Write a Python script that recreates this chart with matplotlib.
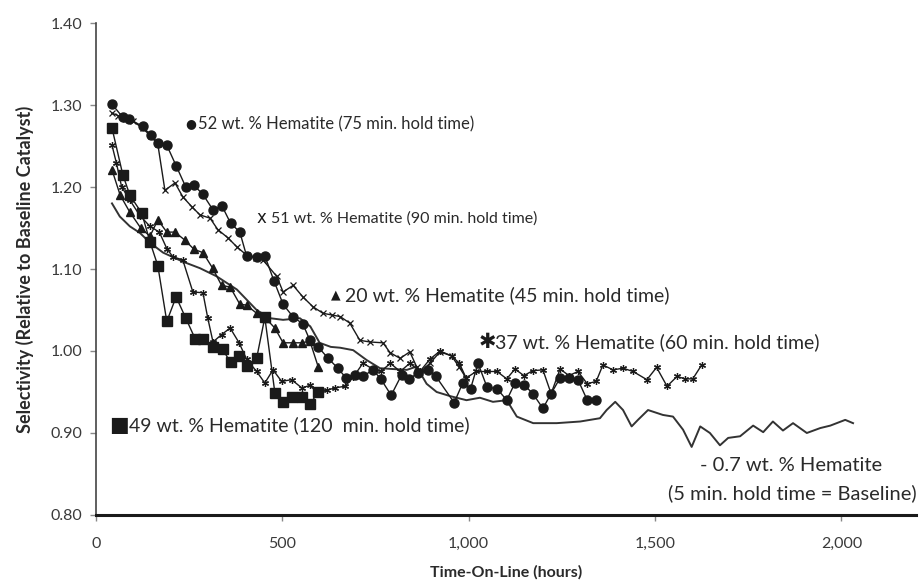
"""
Selectivity vs. time-on-line for hematite catalysts with different hold times.
Saves out.png (920x580).
"""
import matplotlib
matplotlib.use("Agg")
import matplotlib.pyplot as plt
from matplotlib.ticker import FuncFormatter

plt.rcParams["font.family"] = ["Lato", "DejaVu Sans"]

# 52 wt.% hematite, 75 min hold (circles)
t_52 = [43, 72, 89, 125, 147, 166, 190, 215, 241, 263, 287, 314, 338, 361, 386, 404,
        431, 453, 478, 502, 528, 555, 574, 596, 623, 649, 671, 695, 716, 743, 764, 792,
        820, 840, 864, 891, 912, 961, 984, 1005, 1025, 1049, 1076, 1102, 1124, 1148,
        1172, 1199, 1221, 1245, 1269, 1293, 1318, 1342]
s_52 = [1.301, 1.285, 1.283, 1.274, 1.263, 1.254, 1.251, 1.226, 1.200, 1.202, 1.191,
        1.172, 1.177, 1.156, 1.145, 1.116, 1.115, 1.116, 1.085, 1.057, 1.042, 1.033,
        1.013, 1.005, 0.991, 0.979, 0.967, 0.971, 0.969, 0.977, 0.966, 0.946, 0.971,
        0.966, 0.973, 0.977, 0.969, 0.937, 0.961, 0.954, 0.985, 0.956, 0.954, 0.940,
        0.961, 0.959, 0.948, 0.930, 0.948, 0.967, 0.967, 0.965, 0.940, 0.940]

# 51 wt.% hematite, 90 min hold (x)
t_51 = [43, 60, 80, 100, 125, 147, 166, 185, 212, 233, 257, 279, 306, 327, 354, 378,
        404, 430, 448, 485, 502, 529, 555, 582, 609, 632, 655, 681, 708, 735, 770, 789,
        816, 842, 860, 869, 896, 923, 954, 975, 993]
s_51 = [1.290, 1.287, 1.283, 1.280, 1.272, 1.262, 1.252, 1.196, 1.205, 1.188, 1.176,
        1.166, 1.162, 1.148, 1.138, 1.127, 1.117, 1.113, 1.111, 1.091, 1.072, 1.080,
        1.066, 1.054, 1.046, 1.044, 1.042, 1.034, 1.013, 1.011, 1.010, 0.998, 0.991,
        0.999, 0.981, 0.974, 0.985, 0.999, 0.994, 0.980, 0.967]

# 20 wt.% hematite, 45 min hold (triangles)
t_20 = [43, 65, 90, 120, 145, 166, 190, 212, 239, 263, 287, 313, 337, 360, 386, 404,
        431, 455, 480, 502, 529, 552, 574, 596]
s_20 = [1.221, 1.190, 1.170, 1.150, 1.140, 1.160, 1.145, 1.145, 1.135, 1.124, 1.120,
        1.101, 1.080, 1.078, 1.057, 1.056, 1.046, 1.040, 1.028, 1.010, 1.010, 1.010,
        1.012, 0.981]

# 37 wt.% hematite, 60 min hold (stars)
t_37 = [43, 55, 69, 91, 118, 145, 170, 190, 206, 233, 260, 287, 300, 314, 337, 360,
        384, 404, 431, 453, 475, 498, 525, 552, 574, 592, 619, 641, 668, 690, 716, 743,
        764, 790, 816, 842, 869, 896, 923, 954, 975, 993, 1020, 1049, 1076, 1102, 1124,
        1148, 1172, 1199, 1221, 1245, 1269, 1293, 1318, 1342, 1360, 1387, 1414, 1441,
        1478, 1504, 1532, 1559, 1580, 1601, 1625]
s_37 = [1.251, 1.229, 1.200, 1.184, 1.165, 1.152, 1.145, 1.125, 1.115, 1.111, 1.072,
        1.071, 1.040, 1.011, 1.020, 1.028, 1.010, 0.990, 0.975, 0.961, 0.977, 0.963,
        0.965, 0.955, 0.958, 0.950, 0.952, 0.955, 0.957, 0.968, 0.985, 0.978, 0.975,
        0.985, 0.975, 0.985, 0.975, 0.990, 1.000, 0.994, 0.985, 0.967, 0.975, 0.975,
        0.975, 0.966, 0.978, 0.970, 0.976, 0.977, 0.948, 0.978, 0.970, 0.975, 0.960,
        0.963, 0.983, 0.977, 0.979, 0.975, 0.965, 0.980, 0.957, 0.969, 0.966, 0.966,
        0.983]

# 49 wt.% hematite, 120 min hold (squares)
t_49 = [43, 72, 91, 123, 145, 166, 190, 215, 241, 266, 287, 314, 340, 361, 384, 404,
        431, 453, 480, 502, 525, 552, 574, 596]
s_49 = [1.272, 1.215, 1.190, 1.168, 1.133, 1.104, 1.036, 1.066, 1.040, 1.015, 1.015,
        1.005, 1.002, 0.986, 0.994, 0.982, 0.991, 1.041, 0.949, 0.938, 0.944, 0.944,
        0.935, 0.950]

# 0.7 wt.% hematite, 5 min hold = baseline (plain line)
t_base = [43, 64, 91, 118, 145, 180, 233, 279, 324, 378, 431, 467, 502, 547, 575, 600,
          630, 655, 690, 726, 762, 797, 834, 860, 887, 914, 950, 994, 1030, 1065, 1102,
          1129, 1173, 1236, 1299, 1352, 1370, 1393, 1414, 1437, 1454, 1481, 1521, 1548,
          1575, 1598, 1621, 1647, 1674, 1696, 1728, 1763, 1790, 1816, 1843, 1870, 1907,
          1943, 1970, 2010, 2031]
s_base = [1.180, 1.164, 1.152, 1.144, 1.132, 1.120, 1.109, 1.101, 1.091, 1.075, 1.050,
          1.040, 1.038, 1.040, 1.030, 1.010, 1.005, 1.004, 1.001, 0.989, 0.979, 0.978,
          0.977, 0.981, 0.960, 0.950, 0.945, 0.940, 0.943, 0.938, 0.940, 0.920, 0.912,
          0.912, 0.914, 0.918, 0.928, 0.938, 0.928, 0.908, 0.916, 0.928, 0.922, 0.920,
          0.904, 0.883, 0.908, 0.900, 0.885, 0.894, 0.896, 0.909, 0.901, 0.914, 0.903,
          0.912, 0.900, 0.906, 0.909, 0.916, 0.912]

INK = "#1a1a1a"
TXT = "#2a2a2a"


def main():
    fig = plt.figure(figsize=(9.2, 5.8), dpi=100)
    ax = fig.add_axes([0.1043, 0.1121, 0.8914, 0.8482])

    kw = dict(color=INK, lw=1.0, mec=INK, mfc=INK)
    ax.plot(t_base, s_base, color="#333333", lw=1.4)
    ax.plot(t_37, s_37, marker=(6, 2, 0), ms=5, mew=0.9, **kw)
    ax.plot(t_51, s_51, marker="x", ms=4, mew=0.9, **kw)
    ax.plot(t_20, s_20, marker="^", ms=5.5, **kw)
    ax.plot(t_49, s_49, marker="s", ms=7, **kw)
    ax.plot(t_52, s_52, marker="o", ms=6.5, **kw)

    # in-plot labels (marker glyph + text)
    labels = [
        ("\u25cf", 9, 255, 274, 1.277, "52 wt. % Hematite (75 min. hold time)", 12),
        ("x", 12, 445, 470, 1.162, "51 wt. % Hematite (90 min. hold time)", 11.5),
        ("\u25b2", 9, 644, 668, 1.068, "20 wt. % Hematite (45 min. hold time)", 14),
        ("\u2731", 15, 1049, 1071, 1.011, "37 wt. % Hematite (60 min. hold time)", 14),
        ("\u25a0", 15, 62, 89, 0.910, "49 wt. % Hematite (120  min. hold time)", 14),
    ]
    for glyph, gsize, gx, tx, ty, text, tsize in labels:
        ax.text(gx, ty, glyph, fontsize=gsize, color=INK, ha="center", va="center",
                family="DejaVu Sans")
        ax.text(tx, ty, text, fontsize=tsize, color=TXT, ha="left", va="center")
    ax.text(1621, 0.860, "- 0.7 wt. % Hematite", fontsize=14.5, color=TXT,
            ha="left", va="center")
    ax.text(1535, 0.827, "(5 min. hold time = Baseline)", fontsize=14.5, color=TXT,
            ha="left", va="center")

    ax.set_xlim(0, 2200)
    ax.set_ylim(0.80, 1.40)
    ax.set_xticks([0, 500, 1000, 1500, 2000])
    ax.set_yticks([0.80, 0.90, 1.00, 1.10, 1.20, 1.30, 1.40])
    ax.xaxis.set_major_formatter(FuncFormatter(lambda v, p: f"{v:,.0f}"))
    ax.yaxis.set_major_formatter(FuncFormatter(lambda v, p: f"{v:.2f}"))
    ax.tick_params(axis="both", labelsize=11.5, colors="#888888", labelcolor="#3a3a3a",
                   length=4, width=1)
    ax.tick_params(axis="y", pad=6)
    ax.tick_params(axis="x", pad=12)

    for side in ("top", "right"):
        ax.spines[side].set_visible(False)
    ax.spines["left"].set_color("#444444")
    ax.spines["left"].set_linewidth(1.2)
    ax.spines["bottom"].set_color(INK)
    ax.spines["bottom"].set_linewidth(2.2)

    ax.set_xlabel("Time-On-Line (hours)", fontsize=11.5, fontweight="bold",
                  color=TXT, labelpad=10)
    ax.set_ylabel("Selectivity (Relative to Baseline Catalyst)", fontsize=13,
                  fontweight="bold", color=TXT, labelpad=12)

    fig.savefig("out.png", dpi=100, facecolor="white")


if __name__ == "__main__":
    main()
